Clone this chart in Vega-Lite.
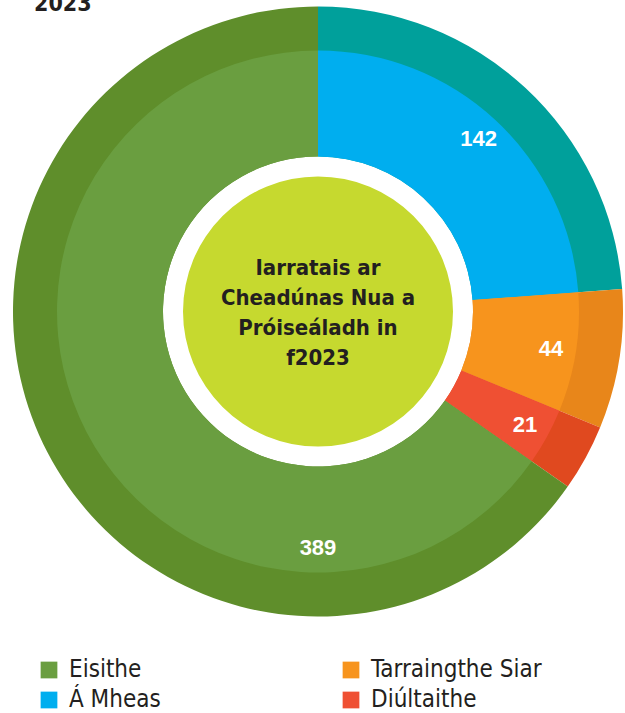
{
  "$schema": "https://vega.github.io/schema/vega-lite/v6.json",
  "autosize": {"type": "none"},
  "width": 614,
  "height": 623,
  "padding": {"left": 11, "top": 0, "right": 0, "bottom": 90},
  "background": "white",
  "title": {
    "text": "2023",
    "anchor": "start",
    "frame": "group",
    "orient": "top",
    "offset": -16,
    "dx": 23,
    "font": "DejaVu Sans Condensed, sans-serif",
    "fontSize": 23,
    "fontWeight": "bold",
    "color": "#231F20"
  },
  "data": {
    "values": [
      {"category": "Á Mheas", "value": 142, "ord": 1},
      {"category": "Tarraingthe Siar", "value": 44, "ord": 2},
      {"category": "Diúltaithe", "value": 21, "ord": 3},
      {"category": "Eisithe", "value": 389, "ord": 4}
    ]
  },
  "encoding": {
    "theta": {"field": "value", "type": "quantitative", "stack": true},
    "order": {"field": "ord", "type": "quantitative", "sort": "ascending"}
  },
  "layer": [
    {
      "mark": {"type": "arc", "outerRadius": 305, "innerRadius": 155},
      "encoding": {
        "color": {
          "field": "category",
          "type": "nominal",
          "scale": {
            "domain": ["Eisithe", "Á Mheas", "Tarraingthe Siar", "Diúltaithe"],
            "range": ["#5F8E2B", "#00A09B", "#E8861A", "#E0491F"]
          },
          "legend": null
        }
      }
    },
    {
      "mark": {"type": "arc", "outerRadius": 261, "innerRadius": 155},
      "encoding": {
        "fill": {
          "field": "category",
          "type": "nominal",
          "scale": {
            "domain": ["Eisithe", "Á Mheas", "Tarraingthe Siar", "Diúltaithe"],
            "range": ["#6A9E40", "#00AEEF", "#F7941D", "#EF5033"]
          },
          "legend": {
            "title": null,
            "orient": "none",
            "legendX": 26,
            "legendY": 658,
            "columns": 2,
            "columnPadding": 178,
            "rowPadding": 6,
            "symbolType": "square",
            "symbolSize": 280,
            "symbolStrokeWidth": 0,
            "labelFont": "DejaVu Sans Condensed, sans-serif",
            "labelFontSize": 24,
            "labelColor": "#231F20",
            "labelOffset": 8,
            "labelLimit": 400
          }
        }
      }
    },
    {
      "transform": [{"filter": "datum.ord < 4"}],
      "mark": {"type": "text", "radius": 236, "color": "white", "font": "Liberation Sans, Arial, sans-serif", "fontWeight": "bold", "fontSize": 22, "baseline": "middle", "align": "center"},
      "encoding": {
        "text": {"field": "value", "type": "quantitative"}
      }
    },
    {
      "transform": [{"filter": "datum.ord == 4"}],
      "mark": {"type": "text", "radius": 236, "color": "white", "font": "Liberation Sans, Arial, sans-serif", "fontWeight": "bold", "fontSize": 22, "baseline": "middle", "align": "center"},
      "encoding": {
        "theta": {"value": 3.1416},
        "order": null,
        "text": {"field": "value", "type": "quantitative"}
      }
    },
    {
      "data": {"values": [{"label": "Iarratais ar Cheadúnas Nua a Próiseáladh in f2023"}]},
      "mark": {"type": "arc", "outerRadius": 135, "innerRadius": 0, "color": "#C6D92F"},
      "encoding": {"theta": {"value": 6.2832}, "order": null}
    },
    {
      "data": {"values": [{"label": "Iarratais ar Cheadúnas Nua a Próiseáladh in f2023"}]},
      "mark": {"type": "text", "align": "center", "baseline": "middle", "lineHeight": 30, "font": "DejaVu Sans Condensed, sans-serif", "fontWeight": "bold", "fontSize": 22, "color": "#231F20", "dy": -44},
      "encoding": {
        "theta": null,
        "order": null,
        "text": {"value": ["Iarratais ar", "Cheadúnas Nua a", "Próiseáladh in", "f2023"]}
      }
    }
  ],
  "resolve": {"scale": {"color": "independent", "fill": "independent"}},
  "config": {"view": {"stroke": null}}
}
